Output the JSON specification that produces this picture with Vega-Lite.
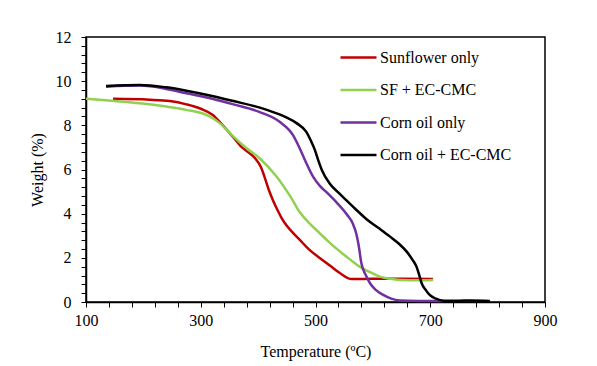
{
  "$schema": "https://vega.github.io/schema/vega-lite/v6.json",
  "width": 459,
  "height": 265,
  "autosize": "none",
  "padding": {"left": 86, "top": 37, "right": 52, "bottom": 64},
  "background": "white",
  "config": {
    "font": "Liberation Serif",
    "view": {"stroke": "black", "strokeWidth": 1.5},
    "axis": {"labelFont": "Liberation Serif", "titleFont": "Liberation Serif"},
    "legend": {"labelFont": "Liberation Serif"}
  },
  "data": {
    "values": [
      {"s": "Sunflower only", "t": 147, "w": 9.2},
      {"s": "Sunflower only", "t": 211, "w": 9.16},
      {"s": "Sunflower only", "t": 246, "w": 9.1},
      {"s": "Sunflower only", "t": 275, "w": 8.95},
      {"s": "Sunflower only", "t": 300, "w": 8.75},
      {"s": "Sunflower only", "t": 321, "w": 8.47},
      {"s": "Sunflower only", "t": 340, "w": 7.95},
      {"s": "Sunflower only", "t": 357, "w": 7.45},
      {"s": "Sunflower only", "t": 370, "w": 7.05},
      {"s": "Sunflower only", "t": 382, "w": 6.8},
      {"s": "Sunflower only", "t": 395, "w": 6.5},
      {"s": "Sunflower only", "t": 405, "w": 6.1},
      {"s": "Sunflower only", "t": 412, "w": 5.6},
      {"s": "Sunflower only", "t": 419, "w": 5.05},
      {"s": "Sunflower only", "t": 426, "w": 4.6},
      {"s": "Sunflower only", "t": 435, "w": 4.1},
      {"s": "Sunflower only", "t": 441, "w": 3.8},
      {"s": "Sunflower only", "t": 450, "w": 3.45},
      {"s": "Sunflower only", "t": 460, "w": 3.15},
      {"s": "Sunflower only", "t": 473, "w": 2.8},
      {"s": "Sunflower only", "t": 490, "w": 2.35},
      {"s": "Sunflower only", "t": 508, "w": 1.98},
      {"s": "Sunflower only", "t": 525, "w": 1.65},
      {"s": "Sunflower only", "t": 543, "w": 1.3},
      {"s": "Sunflower only", "t": 563, "w": 1.04},
      {"s": "Sunflower only", "t": 600, "w": 1.05},
      {"s": "Sunflower only", "t": 650, "w": 1.05},
      {"s": "Sunflower only", "t": 705, "w": 1.04},
      {"s": "SF + EC-CMC", "t": 100, "w": 9.2},
      {"s": "SF + EC-CMC", "t": 150, "w": 9.1},
      {"s": "SF + EC-CMC", "t": 194, "w": 9.0},
      {"s": "SF + EC-CMC", "t": 240, "w": 8.85},
      {"s": "SF + EC-CMC", "t": 275, "w": 8.7},
      {"s": "SF + EC-CMC", "t": 310, "w": 8.47},
      {"s": "SF + EC-CMC", "t": 333, "w": 8.1},
      {"s": "SF + EC-CMC", "t": 357, "w": 7.49},
      {"s": "SF + EC-CMC", "t": 380, "w": 6.96},
      {"s": "SF + EC-CMC", "t": 403, "w": 6.5},
      {"s": "SF + EC-CMC", "t": 432, "w": 5.68},
      {"s": "SF + EC-CMC", "t": 458, "w": 4.7},
      {"s": "SF + EC-CMC", "t": 473, "w": 4.05},
      {"s": "SF + EC-CMC", "t": 490, "w": 3.55},
      {"s": "SF + EC-CMC", "t": 508, "w": 3.1},
      {"s": "SF + EC-CMC", "t": 525, "w": 2.68},
      {"s": "SF + EC-CMC", "t": 543, "w": 2.28},
      {"s": "SF + EC-CMC", "t": 560, "w": 1.93},
      {"s": "SF + EC-CMC", "t": 577, "w": 1.6},
      {"s": "SF + EC-CMC", "t": 595, "w": 1.35},
      {"s": "SF + EC-CMC", "t": 612, "w": 1.15},
      {"s": "SF + EC-CMC", "t": 630, "w": 1.05},
      {"s": "SF + EC-CMC", "t": 647, "w": 1.0},
      {"s": "SF + EC-CMC", "t": 680, "w": 0.98},
      {"s": "SF + EC-CMC", "t": 705, "w": 1.0},
      {"s": "Corn oil only", "t": 135, "w": 9.75},
      {"s": "Corn oil only", "t": 194, "w": 9.8},
      {"s": "Corn oil only", "t": 240, "w": 9.65},
      {"s": "Corn oil only", "t": 275, "w": 9.45},
      {"s": "Corn oil only", "t": 320, "w": 9.2},
      {"s": "Corn oil only", "t": 357, "w": 8.95},
      {"s": "Corn oil only", "t": 403, "w": 8.6},
      {"s": "Corn oil only", "t": 438, "w": 8.15},
      {"s": "Corn oil only", "t": 461, "w": 7.55},
      {"s": "Corn oil only", "t": 470, "w": 7.1},
      {"s": "Corn oil only", "t": 479, "w": 6.58},
      {"s": "Corn oil only", "t": 496, "w": 5.67},
      {"s": "Corn oil only", "t": 508, "w": 5.25},
      {"s": "Corn oil only", "t": 520, "w": 4.95},
      {"s": "Corn oil only", "t": 537, "w": 4.5},
      {"s": "Corn oil only", "t": 555, "w": 3.95},
      {"s": "Corn oil only", "t": 565, "w": 3.55},
      {"s": "Corn oil only", "t": 571, "w": 3.1},
      {"s": "Corn oil only", "t": 575, "w": 2.6},
      {"s": "Corn oil only", "t": 580, "w": 1.75},
      {"s": "Corn oil only", "t": 588, "w": 1.2},
      {"s": "Corn oil only", "t": 595, "w": 0.85},
      {"s": "Corn oil only", "t": 605, "w": 0.55},
      {"s": "Corn oil only", "t": 618, "w": 0.32},
      {"s": "Corn oil only", "t": 632, "w": 0.15},
      {"s": "Corn oil only", "t": 647, "w": 0.07},
      {"s": "Corn oil only", "t": 680, "w": 0.05},
      {"s": "Corn oil only", "t": 723, "w": 0.05},
      {"s": "Corn oil + EC-CMC", "t": 135, "w": 9.78},
      {"s": "Corn oil + EC-CMC", "t": 194, "w": 9.83},
      {"s": "Corn oil + EC-CMC", "t": 240, "w": 9.72},
      {"s": "Corn oil + EC-CMC", "t": 275, "w": 9.57},
      {"s": "Corn oil + EC-CMC", "t": 320, "w": 9.33},
      {"s": "Corn oil + EC-CMC", "t": 357, "w": 9.1},
      {"s": "Corn oil + EC-CMC", "t": 403, "w": 8.8},
      {"s": "Corn oil + EC-CMC", "t": 426, "w": 8.6},
      {"s": "Corn oil + EC-CMC", "t": 450, "w": 8.35},
      {"s": "Corn oil + EC-CMC", "t": 467, "w": 8.1},
      {"s": "Corn oil + EC-CMC", "t": 484, "w": 7.7},
      {"s": "Corn oil + EC-CMC", "t": 492, "w": 7.3},
      {"s": "Corn oil + EC-CMC", "t": 499, "w": 6.88},
      {"s": "Corn oil + EC-CMC", "t": 505, "w": 6.4},
      {"s": "Corn oil + EC-CMC", "t": 511, "w": 5.98},
      {"s": "Corn oil + EC-CMC", "t": 525, "w": 5.35},
      {"s": "Corn oil + EC-CMC", "t": 540, "w": 4.95},
      {"s": "Corn oil + EC-CMC", "t": 554, "w": 4.6},
      {"s": "Corn oil + EC-CMC", "t": 570, "w": 4.2},
      {"s": "Corn oil + EC-CMC", "t": 589, "w": 3.75},
      {"s": "Corn oil + EC-CMC", "t": 610, "w": 3.35},
      {"s": "Corn oil + EC-CMC", "t": 630, "w": 2.96},
      {"s": "Corn oil + EC-CMC", "t": 645, "w": 2.65},
      {"s": "Corn oil + EC-CMC", "t": 659, "w": 2.28},
      {"s": "Corn oil + EC-CMC", "t": 668, "w": 1.95},
      {"s": "Corn oil + EC-CMC", "t": 676, "w": 1.6},
      {"s": "Corn oil + EC-CMC", "t": 681, "w": 1.2},
      {"s": "Corn oil + EC-CMC", "t": 685, "w": 0.85},
      {"s": "Corn oil + EC-CMC", "t": 692, "w": 0.55},
      {"s": "Corn oil + EC-CMC", "t": 699, "w": 0.32},
      {"s": "Corn oil + EC-CMC", "t": 710, "w": 0.15},
      {"s": "Corn oil + EC-CMC", "t": 723, "w": 0.06},
      {"s": "Corn oil + EC-CMC", "t": 750, "w": 0.06},
      {"s": "Corn oil + EC-CMC", "t": 770, "w": 0.07},
      {"s": "Corn oil + EC-CMC", "t": 804, "w": 0.05}
    ]
  },
  "mark": {"type": "line", "interpolate": "monotone", "strokeWidth": 2.5},
  "encoding": {
    "x": {
      "field": "t",
      "type": "quantitative",
      "scale": {"domain": [100, 900], "nice": false, "zero": false},
      "axis": {
        "title": "Temperature (ºC)",
        "values": [100, 140, 180, 220, 260, 300, 340, 380, 420, 460, 500, 540, 580, 620, 660, 700, 740, 780, 820, 860, 900],
        "format": "d",
        "labelExpr": "datum.value % 200 == 100 ? datum.label : ''",
        "grid": false,
        "domainColor": "black",
        "domainWidth": 1.5,
        "tickColor": "black",
        "tickSize": 5,
        "tickWidth": 1,
        "labelFont": "Liberation Serif",
        "labelFontSize": 16,
        "labelColor": "black",
        "labelPadding": 5,
        "labelFlush": false,
        "titleFont": "Liberation Serif",
        "titleFontSize": 16,
        "titleFontWeight": "normal",
        "titleColor": "black",
        "titlePadding": 15
      }
    },
    "y": {
      "field": "w",
      "type": "quantitative",
      "scale": {"domain": [0, 12], "nice": false},
      "axis": {
        "title": "Weight (%)",
        "values": [0, 0.4, 0.8, 1.2, 1.6, 2, 2.4, 2.8, 3.2, 3.6, 4, 4.4, 4.8, 5.2, 5.6, 6, 6.4, 6.8, 7.2, 7.6, 8, 8.4, 8.8, 9.2, 9.6, 10, 10.4, 10.8, 11.2, 11.6, 12],
        "format": ".0f",
        "labelExpr": "datum.value % 2 == 0 ? datum.label : ''",
        "grid": false,
        "domainColor": "black",
        "domainWidth": 1.5,
        "tickColor": "black",
        "tickSize": 5,
        "tickWidth": 1,
        "labelFont": "Liberation Serif",
        "labelFontSize": 16,
        "labelColor": "black",
        "labelPadding": 10,
        "labelFlush": false,
        "titleFont": "Liberation Serif",
        "titleFontSize": 16,
        "titleFontWeight": "normal",
        "titleColor": "black",
        "titlePadding": 10
      }
    },
    "color": {
      "field": "s",
      "type": "nominal",
      "scale": {
        "domain": ["Sunflower only", "SF + EC-CMC", "Corn oil only", "Corn oil + EC-CMC"],
        "range": ["#C00000", "#92D050", "#7030A0", "#000000"]
      },
      "legend": {
        "title": null,
        "orient": "none",
        "legendX": 253,
        "legendY": 1,
        "symbolType": "stroke",
        "symbolSize": 1296,
        "symbolStrokeWidth": 2.5,
        "labelFont": "Liberation Serif",
        "labelFontSize": 16,
        "labelColor": "black",
        "labelOffset": 2,
        "rowPadding": 4.5,
        "padding": 0
      }
    }
  }
}
